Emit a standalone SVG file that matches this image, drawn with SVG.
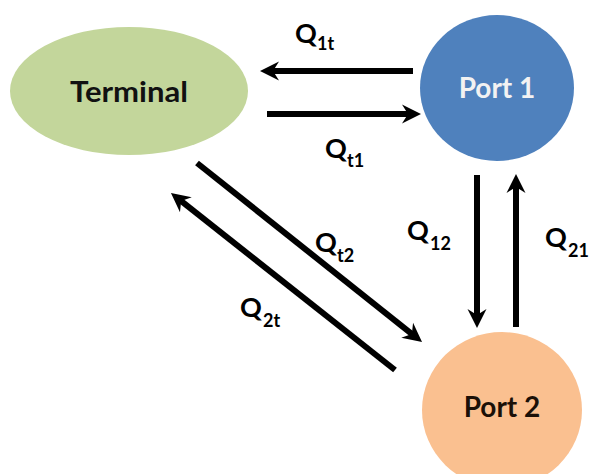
<svg xmlns="http://www.w3.org/2000/svg" width="589" height="474" viewBox="0 0 589 474">
<style>
.lbl{font-family:Lato,"Open Sans","Liberation Sans",sans-serif;font-weight:bold;fill:#000;font-size:27px}
.sub{font-size:18px}
.node{font-family:Lato,"Open Sans","Liberation Sans",sans-serif;font-weight:bold;font-size:28px;text-anchor:middle}
.conn{stroke:#000;stroke-width:6;fill:none;marker-end:url(#ah)}
</style>
<defs>
<marker id="ah" viewBox="0 0 20 20" markerWidth="20" markerHeight="20" markerUnits="userSpaceOnUse" orient="auto" refX="10" refY="10">
<path d="M1,0.5 L20,10 L1,19.5 L7,10 Z" fill="#000"/>
</marker>
</defs>
<rect width="589" height="474" fill="#fff"/>
<g id="terminal">
<ellipse cx="129" cy="91" rx="119" ry="64" fill="#c3d69b"/>
<text class="node" x="129" y="102" fill="#111" font-size="29" textLength="118" lengthAdjust="spacingAndGlyphs">Terminal</text>
</g>
<g id="port1">
<ellipse cx="497" cy="88" rx="77" ry="73" fill="#4f81bd"/>
<text class="node" x="497" y="98" fill="#f2f2f2">Port 1</text>
</g>
<g id="port2">
<ellipse cx="502" cy="410" rx="80" ry="78" fill="#fac090"/>
<text class="node" x="502" y="417" fill="#1a1008">Port 2</text>
</g>
<g id="connectors">
<line class="conn" x1="413" y1="71" x2="270" y2="71"/>
<line class="conn" x1="267" y1="114" x2="411" y2="114"/>
<line class="conn" x1="477" y1="175" x2="477" y2="318"/>
<line class="conn" x1="516" y1="327" x2="516" y2="184"/>
<line class="conn" x1="197" y1="163" x2="414.2" y2="335.8"/>
<line class="conn" x1="395" y1="370" x2="178.8" y2="199.2"/>
</g>
<g id="labels">
<text class="lbl" x="295" y="43">Q<tspan class="sub" x="317" y="50">1t</tspan></text>
<text class="lbl" x="325" y="158">Q<tspan class="sub" x="347" y="167">t1</tspan></text>
<text class="lbl" x="407" y="240">Q<tspan class="sub" x="430" y="250">12</tspan></text>
<text class="lbl" x="545" y="247">Q<tspan class="sub" x="568" y="257">21</tspan></text>
<text class="lbl" x="315" y="252">Q<tspan class="sub" x="337" y="262">t2</tspan></text>
<text class="lbl" x="240" y="317">Q<tspan class="sub" x="263" y="327">2t</tspan></text>
</g>
</svg>
